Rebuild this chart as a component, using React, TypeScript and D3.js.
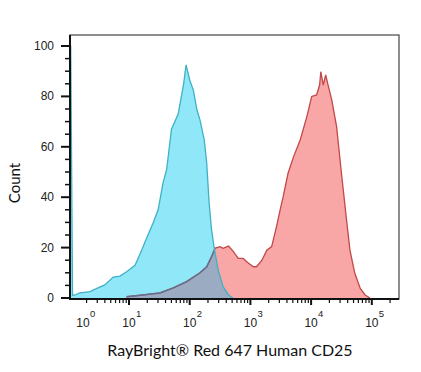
import * as d3 from "d3";

// histogram values; x in decades (log10 of intensity)
const cyanLog = [0.03, 0.04, 0.07, 0.11, 0.19, 0.36, 0.47, 0.6, 0.74, 0.85, 0.96, 1.1, 1.21, 1.26, 1.4, 1.48, 1.56, 1.62, 1.7, 1.81, 1.9, 1.94, 2.0, 2.06, 2.12, 2.17, 2.24, 2.28, 2.32, 2.36, 2.4, 2.47, 2.55, 2.64, 2.71];
const cyanCount = [100, 100, 1, 1.2, 2, 2.5, 3.8, 5.2, 8.3, 8.7, 10.4, 13, 19, 22, 30, 35, 45.6, 51, 67, 73, 85, 92.5, 86.5, 82.5, 74.6, 70.6, 62.7, 53.6, 37.7, 27, 20.4, 11, 4.5, 1.2, 0];

const redLog = [0.96, 1.23, 1.51, 1.73, 1.95, 2.17, 2.28, 2.36, 2.42, 2.5, 2.55, 2.64, 2.72, 2.8, 2.88, 2.97, 3.05, 3.1, 3.19, 3.27, 3.35, 3.43, 3.49, 3.54, 3.62, 3.71, 3.82, 3.93, 4.01, 4.09, 4.14, 4.16, 4.2, 4.24, 4.28, 4.34, 4.42, 4.5, 4.59, 4.64, 4.72, 4.81, 4.89, 4.97];
const redCount = [0.5, 1.2, 2, 4, 6.5, 10, 12.4, 16.4, 19.8, 20.4, 19.7, 20.6, 18.4, 15.7, 15.7, 13.8, 12.4, 12.4, 15, 19, 20.4, 28.3, 35, 40.2, 49.5, 56, 62.7, 72, 80, 80.6, 84.5, 89.8, 84.5, 88.5, 84.5, 78.6, 68, 49.5, 29.6, 19, 9.8, 3.8, 1.2, 0];

const decades = [0, 1, 2, 3, 4, 5];
const yTicks = [0, 20, 40, 60, 80, 100];
const yTitle = "Count";
const xTitle = "RayBright® Red 647 Human CD25";

const W = 421, H = 372;
const left = 70, right = 399, top = 35, bottom = 299;

export default function App() {
  const x = d3.scaleLog().domain([Math.pow(10, 0.028), Math.pow(10, 5.448)]).range([left, right]);
  const y = d3.scaleLinear().domain([0, 100]).range([298, 46]);

  const area = d3.area<[number, number]>()
    .x((d) => x(Math.pow(10, d[0])))
    .y0(y(0))
    .y1((d) => y(d[1]));
  const line = d3.line<[number, number]>()
    .x((d) => x(Math.pow(10, d[0])))
    .y((d) => y(d[1]));

  const cyan = cyanLog.map((v, i) => [v, cyanCount[i]] as [number, number]);
  const red = redLog.map((v, i) => [v, redCount[i]] as [number, number]);

  const [lo, hi] = x.domain();
  const minorX: number[] = [];
  decades.forEach((dd) => {
    for (let m = 2; m <= 9; m++) {
      const v = m * Math.pow(10, dd);
      if (v > lo && v < hi) minorX.push(v);
    }
  });
  const minorY = d3.range(0, 101, 5).filter((v) => v % 20 !== 0);

  return (
    <svg width={W} height={H} style={{ position: "absolute", left: 0, top: 0, background: "#fff" }}
      fontFamily="Liberation Sans, Arial, sans-serif">
      <defs>
        <clipPath id="cyanClip">
          <path d={area(cyan)!} />
        </clipPath>
      </defs>
      <path d={area(cyan)!} fill="#8fe7f8" />
      <path d={area(red)!} fill="#f9a6a6" />
      <g clipPath="url(#cyanClip)">
        <path d={area(red)!} fill="#9aabc2" />
      </g>
      <path d={line(red)!} fill="none" stroke="#c2484a" strokeWidth={1.3} />
      <g clipPath="url(#cyanClip)">
        <path d={line(red)!} fill="none" stroke="#5f7190" strokeWidth={1.4} />
      </g>
      <path d={line(cyan)!} fill="none" stroke="#3fb1c6" strokeWidth={1.3} />

      {/* frame */}
      <rect x={left} y={top} width={right - left} height={bottom - top} fill="none" stroke="#444" strokeWidth={1.2} />
      <line x1={left} x2={left} y1={top} y2={bottom + 1} stroke="#111" strokeWidth={2} />
      <line x1={left} x2={right} y1={bottom} y2={bottom} stroke="#111" strokeWidth={2} />

      {/* y axis */}
      {yTicks.map((t) => (
        <g key={t}>
          <line x1={left - 9} x2={left} y1={y(t)} y2={y(t)} stroke="#111" strokeWidth={2} />
          <text x={54} y={y(t) + 4} fontSize={12} textAnchor="end" fill="#222">{t}</text>
        </g>
      ))}
      {minorY.map((t) => (
        <line key={t} x1={left - 5} x2={left} y1={y(t)} y2={y(t)} stroke="#111" strokeWidth={1.5} />
      ))}
      <text transform={`translate(20,183) rotate(-90)`} textAnchor="middle" fontSize={15}
        fontFamily="Lato, Open Sans, sans-serif" fill="#111">{yTitle}</text>

      {/* x axis */}
      {decades.filter((dd) => dd >= 1).map((dd) => (
        <line key={dd} x1={x(Math.pow(10, dd))} x2={x(Math.pow(10, dd))} y1={bottom} y2={bottom + 6}
          stroke="#111" strokeWidth={2} />
      ))}
      {minorX.map((v, i) => (
        <line key={i} x1={x(v)} x2={x(v)} y1={bottom} y2={bottom + 4} stroke="#111" strokeWidth={1.2} />
      ))}
      {decades.map((dd) => {
        const cx = Math.max(x(Math.pow(10, dd)), left + 13);
        return (
          <g key={dd} fill="#222">
            <text x={cx} y={327} fontSize={12} textAnchor="middle">10</text>
            <text x={cx + 7} y={317} fontSize={9.5} textAnchor="start">{dd}</text>
          </g>
        );
      })}
      <text x={230} y={356} textAnchor="middle" fontSize={16}
        fontFamily="Lato, Open Sans, sans-serif" fill="#111">{xTitle}</text>
    </svg>
  );
}
